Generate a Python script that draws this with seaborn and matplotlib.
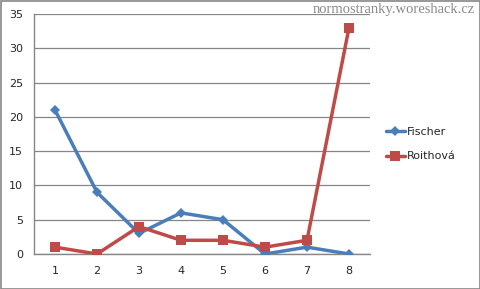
import matplotlib
matplotlib.use("Agg")
import matplotlib.pyplot as plt
import seaborn as sns
import pandas as pd
import numpy as np

categories = [1, 2, 3, 4, 5, 6, 7, 8]
fischer = [21, 9, 3, 6, 5, 0, 1, 0]
roithova = [1, 0, 4, 2, 2, 1, 2, 33]
series_names = ["Fischer", "Roithová"]
y_ticks = [0, 5, 10, 15, 20, 25, 30, 35]

df = pd.DataFrame({
    "x": categories * 2,
    "y": fischer + roithova,
    "series": [series_names[0]] * len(categories) + [series_names[1]] * len(categories),
})

sns.set_style("white")
plt.rcParams['font.family'] = ['DejaVu Sans']

fig = plt.figure(figsize=(4.81, 2.89), dpi=100)
W, H = 481, 289
ax = fig.add_axes([34 / W, 1 - 254 / H, (370 - 34) / W, (254 - 14) / H])

palette = {"Fischer": "#4A7EBB", "Roithová": "#BE4B48"}
markers = {"Fischer": "D", "Roithová": "s"}
sizes = {"Fischer": 5.5, "Roithová": 7}

for name in series_names:
    sub = df[df["series"] == name]
    sns.lineplot(data=sub, x="x", y="y", ax=ax, color=palette[name], linewidth=2.5,
                 marker=markers[name], markersize=sizes[name], markeredgewidth=0,
                 label=name, zorder=3)

ax.set_xlim(0.5, 8.5)
ax.set_ylim(0, 35)
ax.set_yticks(y_ticks)
ax.set_xticks(categories)
ax.set_xticklabels([str(c) for c in categories])
ax.set_xticks(np.arange(0.5, 8.6, 1), minor=True)
ax.tick_params(axis='x', which='major', length=0, pad=9, labelsize=8)
ax.tick_params(axis='x', which='minor', length=4, color='#868686', direction='out', width=1)
ax.tick_params(axis='y', which='major', length=4, color='#868686', direction='out', labelsize=8, pad=4)
ax.yaxis.grid(True, color='#868686', linewidth=0.9)
ax.set_axisbelow(True)
for s in ['top', 'right']:
    ax.spines[s].set_visible(False)
for s in ['left', 'bottom']:
    ax.spines[s].set_color('#868686')
    ax.spines[s].set_linewidth(1)
ax.set_xlabel("")
ax.set_ylabel("")

leg = ax.legend(loc='upper left', bbox_to_anchor=(386 / W, 1 - 127 / H), bbox_transform=fig.transFigure,
                frameon=False, fontsize=8, handlelength=1.7, handletextpad=0.2, labelspacing=1.3,
                borderaxespad=0, borderpad=0)

fig.text(1 - 6 / W, 1 - 10 / H, "normostranky.woreshack.cz", ha='right', va='center',
         fontsize=10.5, color='#8a8a8a', family=['Liberation Serif'])

# border around the figure
fig.patches.append(plt.Rectangle((0.5 / W, 0.5 / H), 1 - 1.5 / W, 1 - 1.5 / H, transform=fig.transFigure,
                                 fill=False, edgecolor='#868686', linewidth=1.2))

fig.savefig("out.png", dpi=100)
